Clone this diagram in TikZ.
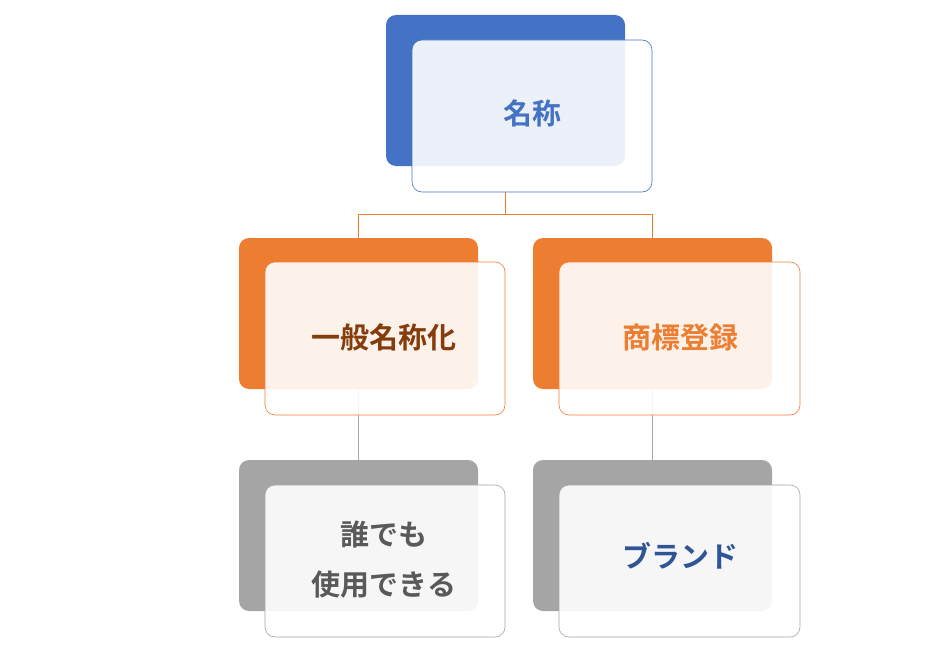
\documentclass[tikz,border=0pt]{standalone}
\usepackage{fontspec}
\newfontfamily\cjk{Noto Sans CJK JP Bold}
\begin{document}
\begin{tikzpicture}[x=1pt,y=-1pt,
 back/.style={rounded corners=10pt,draw=none},
 front/.style={rounded corners=10pt,fill=white,fill opacity=0.9,text opacity=1,draw=#1,line width=0.6pt},
 lbl/.style={font=\cjk\fontsize{29}{38}\selectfont,align=center},
 conn/.style={line width=0.5pt}]
\useasboundingbox (0,0) rectangle (936,650);
\definecolor{cblue}{HTML}{4472C4}\definecolor{corange}{HTML}{ED7D31}\definecolor{cgray}{HTML}{A5A5A5}
% connectors
\coordinate (j1) at (505,214);\coordinate (jl) at (358,214);\coordinate (jr) at (652,214);
\draw[conn,corange] (505,192) -- (j1) (jl) -- (jr) (jl) -- (358,238) (jr) -- (652,238);
\draw[conn,cgray] (358,389) -- (358,460) (652,389) -- (652,460);
% top
\fill[back,cblue] (386,15) rectangle (625,166);
\draw[front=cblue] (412,40) rectangle (652,192);
\node[lbl,text=cblue] (t) at (532,113) {名称};
% middle
\fill[back,corange] (239,238) rectangle (478,389);
\draw[front=corange] (265,262) rectangle (505,415);
\node[lbl,text={rgb,255:red,132;green,60;blue,12}] (a) at (384,337) {一般名称化};
\fill[back,corange] (533,238) rectangle (772,389);
\draw[front=corange] (559,262) rectangle (800,415);
\node[lbl,text=corange] (b) at (680,337) {商標登録};
% bottom
\fill[back,cgray] (239,460) rectangle (478,611);
\draw[front=cgray] (265,485) rectangle (505,637);
\node[lbl,text={rgb,255:red,89;green,89;blue,89},font=\cjk\fontsize{29}{50}\selectfont] (c) at (384,560) {誰でも\\使用できる};
\fill[back,cgray] (533,460) rectangle (772,611);
\draw[front=cgray] (559,485) rectangle (800,637);
\node[lbl,text={rgb,255:red,47;green,85;blue,151}] (d) at (680,556) {ブランド};
\end{tikzpicture}
\end{document}
